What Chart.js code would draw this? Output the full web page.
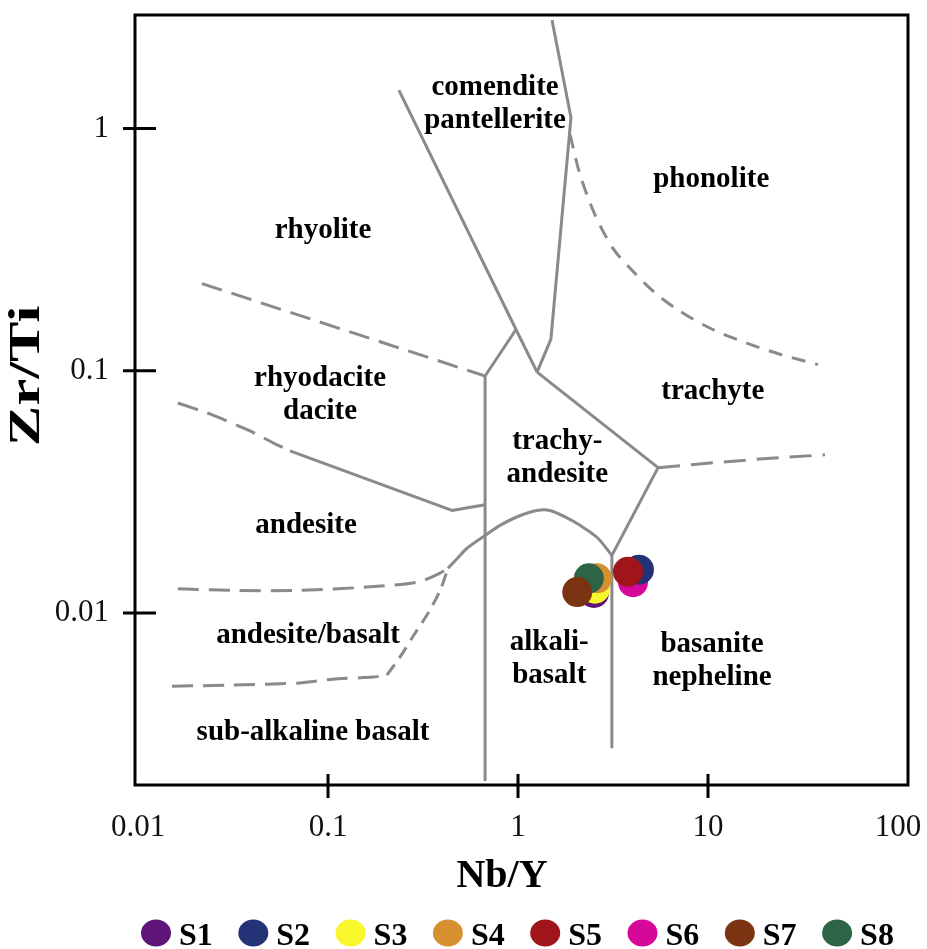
<!DOCTYPE html>
<html>
<head>
<meta charset="utf-8">
<title>Nb/Y – Zr/Ti classification</title>
<script src="https://cdn.jsdelivr.net/npm/chart.js@4/dist/chart.umd.min.js"></script>
<style>
  html, body { margin: 0; padding: 0; background: #ffffff; }
  canvas { display: block; }
</style>
</head>
<body>
<canvas id="chart" width="927" height="949"></canvas>
<script>
// ---- samples ----
const sampleNames = ['S1', 'S2', 'S3', 'S4', 'S5', 'S6', 'S7', 'S8'];
const sampleNbY  = [2.51, 4.33, 2.54, 2.60, 3.79, 4.03, 2.05, 2.36];
const sampleZrTi = [0.0121, 0.0151, 0.0126, 0.0139, 0.0148, 0.0134, 0.0122, 0.0139];

// ---- axis ticks ----
const xTickValues = [0.01, 0.1, 1, 10, 100];
const xTickLabels = ['0.01', '0.1', '1', '10', '100'];
const yTickValues = [0.01, 0.1, 1];
const yTickLabels = ['0.01', '0.1', '1'];

// ---- field boundaries, vertices as [Nb/Y, Zr/Ti] ----
const rhyoliteComendite   = [[0.236, 1.44], [0.976, 0.148], [1.26, 0.0987]];
const comenditePhonolite  = [[1.51, 2.80], [1.90, 1.11], [1.86, 0.924], [1.49, 0.135], [1.26, 0.0987]];
const rhyodaciteTrachyAnd = [[0.671, 0.0951], [0.976, 0.148]];
const subalkalineAlkaline = [[0.671, 0.0951], [0.671, 0.00205]];
const trachyteBasanite    = [[1.26, 0.0987], [5.46, 0.0398], [3.12, 0.0173], [3.12, 0.00280]];
const trachyAndAlkBasalt  = [[0.428, 0.0153], [0.483, 0.0169], [0.539, 0.0185], [0.671, 0.0209],
                             [0.804, 0.0230], [1.02, 0.0252], [1.26, 0.0265], [1.47, 0.0265],
                             [1.81, 0.0247], [2.12, 0.0230], [2.61, 0.0205], [3.12, 0.0173]];
const dacitAndesiteSolid  = [[0.0631, 0.0467], [0.449, 0.0265], [0.671, 0.0280]];

const phonoliteTrachyte   = [[1.88, 0.942], [2.12, 0.645], [2.54, 0.441], [3.16, 0.320], [3.89, 0.265],
                             [5.14, 0.213], [7.12, 0.176], [10.6, 0.148], [16.0, 0.130], [23.9, 0.117],
                             [37.9, 0.106]];
const rhyoliteRhyodacite  = [[0.0217, 0.229], [0.671, 0.0951]];
const dacitAndesiteDashed = [[0.0162, 0.0736], [0.0239, 0.0663], [0.0389, 0.0564], [0.0514, 0.0504],
                             [0.0631, 0.0467]];
const andesiteAndBasalt   = [[0.0162, 0.0126], [0.0316, 0.0124], [0.0712, 0.0124], [0.160, 0.0128],
                             [0.294, 0.0134], [0.389, 0.0146], [0.439, 0.0157]];
const andBasaltSubalkFlat = [[0.0151, 0.00499], [0.0316, 0.00504], [0.0712, 0.00514], [0.106, 0.00533],
                             [0.173, 0.00544], [0.204, 0.00554]];
const andBasaltSubalkRise = [[0.204, 0.00554], [0.239, 0.00657], [0.287, 0.00825], [0.336, 0.00997],
                             [0.389, 0.0124], [0.428, 0.0153]];
const trachyteBasaniteDsh = [[5.46, 0.0398], [10.6, 0.0417], [19.5, 0.0433], [41.3, 0.0450]];

// ---- field names, anchored at the baseline of their first line ----
const fieldNames = [
  ['comendite', 'pantellerite'],
  ['phonolite'],
  ['rhyolite'],
  ['rhyodacite', 'dacite'],
  ['trachyte'],
  ['trachy-', 'andesite'],
  ['andesite'],
  ['andesite/basalt'],
  ['sub-alkaline basalt'],
  ['alkali-', 'basalt'],
  ['basanite', 'nepheline']
];
const fieldNameAnchors = [
  [0.757, 1.376], [10.4, 0.575], [0.0941, 0.352], [0.0908, 0.0865], [10.6, 0.0764],
  [1.61, 0.0476], [0.0766, 0.0213], [0.0785, 0.00750], [0.0834, 0.00299],
  [1.46, 0.00702], [10.5, 0.00689]
];

// ---- styling ----
const SERIF = '"Liberation Serif", "Times New Roman", serif';
const sampleColors = ['#5e1478', '#243278', '#f7f72c', '#d79030', '#a01519', '#d6089a', '#7b3412', '#2e6446'];
const sampleStacking = [5, 2, 4, 3, 1, 3, 1, 2];   // lower value = drawn on top
const LINE_GREY = '#8a8a8a';

const toXY = pts => pts.map(([x, y]) => ({ x, y }));

function boundary(pts, dash, tension) {
  return {
    label: '', boundary: true, data: toXY(pts), showLine: true,
    borderColor: LINE_GREY, borderWidth: 3, borderDash: dash, borderJoinStyle: 'round',
    tension: tension, pointRadius: 0, pointHoverRadius: 0, fill: false, order: 100
  };
}

const datasets = [];
sampleNames.forEach((name, i) => {
  datasets.push({
    label: name,
    data: [{ x: sampleNbY[i], y: sampleZrTi[i] }],
    backgroundColor: sampleColors[i],
    borderWidth: 0,
    pointRadius: 15,
    pointHoverRadius: 15,
    order: sampleStacking[i]
  });
});
[rhyoliteComendite, comenditePhonolite, rhyodaciteTrachyAnd, subalkalineAlkaline,
 trachyteBasanite, dacitAndesiteSolid].forEach(l => datasets.push(boundary(l, [], 0)));
datasets.push(boundary(trachyAndAlkBasalt, [], 0.3));
datasets.push(boundary(phonoliteTrachyte, [14, 10], 0.3));
datasets.push(boundary(rhyoliteRhyodacite, [21, 10], 0));
datasets.push(boundary(dacitAndesiteDashed, [21, 10], 0.2));
datasets.push(boundary(andesiteAndBasalt, [21, 10], 0.3));
datasets.push(boundary(andBasaltSubalkFlat, [21, 10], 0.2));
datasets.push(boundary(andBasaltSubalkRise, [13, 8], 0.3));
datasets.push(boundary(trachyteBasaniteDsh, [22, 11], 0));

// field names inside the diagram
const fieldNamePlugin = {
  id: 'fieldNames',
  beforeDatasetsDraw(chart) {
    const { ctx, scales: { x, y } } = chart;
    ctx.save();
    ctx.fillStyle = '#000';
    ctx.font = 'bold 29px ' + SERIF;
    ctx.textAlign = 'center';
    ctx.textBaseline = 'alphabetic';
    fieldNames.forEach((lines, i) => {
      const px = x.getPixelForValue(fieldNameAnchors[i][0]);
      const py = y.getPixelForValue(fieldNameAnchors[i][1]);
      lines.forEach((t, k) => ctx.fillText(t, px, py + k * 33));
    });
    ctx.restore();
  }
};

// plot frame and tick marks crossing the frame (inner decades only on x)
const framePlugin = {
  id: 'frame',
  afterDatasetsDraw(chart) {
    const { ctx, chartArea: a, scales: { x, y } } = chart;
    ctx.save();
    ctx.strokeStyle = '#000';
    ctx.lineWidth = 3;
    ctx.strokeRect(a.left, a.top, a.right - a.left, a.bottom - a.top);
    ctx.beginPath();
    xTickValues.slice(1, -1).forEach(v => {
      const px = x.getPixelForValue(v);
      ctx.moveTo(px, a.bottom - 11);
      ctx.lineTo(px, a.bottom + 13);
    });
    yTickValues.forEach(v => {
      const py = y.getPixelForValue(v);
      ctx.moveTo(a.left - 12, py);
      ctx.lineTo(a.left + 21, py);
    });
    ctx.stroke();
    ctx.restore();
  }
};

// axis titles and the sample key
const titleKeyPlugin = {
  id: 'titlesAndKey',
  afterDraw(chart) {
    const { ctx } = chart;
    const xTitle = chart.options.scales.x.title.text;
    const yTitle = chart.options.scales.y.title.text;
    ctx.save();
    ctx.fillStyle = '#000';
    ctx.font = 'bold 40px ' + SERIF;
    ctx.textAlign = 'center';
    ctx.textBaseline = 'alphabetic';
    ctx.fillText(xTitle, 502, 887);

    ctx.save();
    ctx.translate(28, 376);
    ctx.rotate(-Math.PI / 2);
    ctx.scale(1.38, 1);
    ctx.font = 'bold 44px ' + SERIF;
    ctx.textBaseline = 'middle';
    ctx.fillText(yTitle, 0, 0);
    ctx.restore();

    ctx.font = 'bold 32px ' + SERIF;
    ctx.textAlign = 'left';
    chart.data.datasets.forEach((ds, i) => {
      if (ds.boundary) return;
      const cx = 156 + i * 97.3, cy = 933;
      ctx.beginPath();
      ctx.ellipse(cx, cy, 15, 13.5, 0, 0, Math.PI * 2);
      ctx.fillStyle = ds.backgroundColor;
      ctx.fill();
      ctx.fillStyle = '#000';
      ctx.fillText(ds.label, cx + 23, 945);
    });
    ctx.restore();
  }
};

new Chart(document.getElementById('chart'), {
  type: 'scatter',
  data: { datasets },
  plugins: [fieldNamePlugin, framePlugin, titleKeyPlugin],
  options: {
    responsive: false,
    animation: false,
    events: [],
    layout: { padding: { top: 13, right: 19, left: 0, bottom: 0 } },
    plugins: { legend: { display: false }, tooltip: { enabled: false } },
    scales: {
      x: {
        type: 'logarithmic',
        min: 0.00964,
        max: 112.9,
        afterBuildTicks: s => { s.ticks = xTickValues.map(v => ({ value: v })); },
        afterFit: s => { s.height = 164; s.paddingLeft = 0; s.paddingRight = 0; },
        grid: { display: false },
        border: { display: false },
        title: { display: false, text: 'Nb/Y' },
        ticks: {
          autoSkip: false, maxRotation: 0, padding: 16, color: '#111',
          font: { family: SERIF, size: 31 },
          callback: (v, i) => xTickLabels[i]
        }
      },
      y: {
        type: 'logarithmic',
        min: 0.00195,
        max: 2.94,
        afterBuildTicks: s => { s.ticks = yTickValues.map(v => ({ value: v })); },
        afterFit: s => { s.width = 135; s.paddingTop = 0; s.paddingBottom = 0; },
        grid: { display: false },
        border: { display: false },
        title: { display: false, text: 'Zr/Ti' },
        ticks: {
          autoSkip: false, padding: 18, color: '#111',
          font: { family: SERIF, size: 31 },
          callback: (v, i) => yTickLabels[i]
        }
      }
    }
  }
});
</script>
</body>
</html>
